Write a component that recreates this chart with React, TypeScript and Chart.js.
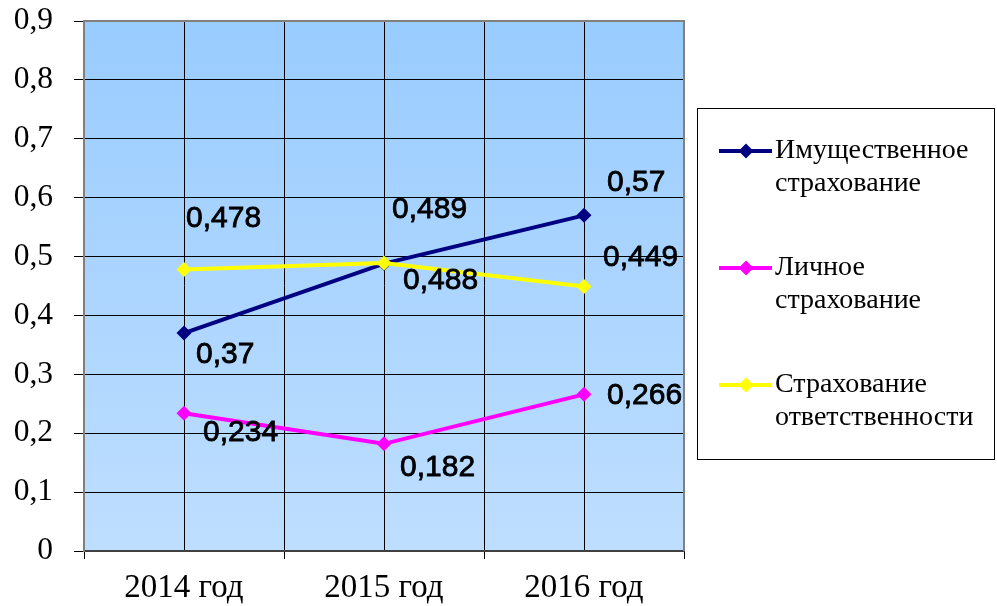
import React, { useEffect, useRef } from 'react';
import { Chart, registerables } from 'chart.js';

Chart.register(...registerables);

const categories = ['2014 год', '2015 год', '2016 год'];
const seriesNames = ['Имущественное страхование', 'Личное страхование', 'Страхование ответственности'];
const propertyValues = [0.37, 0.488, 0.57];
const personalValues = [0.234, 0.182, 0.266];
const liabilityValues = [0.478, 0.489, 0.449];
const seriesColors = ['#000080', '#FF00FF', '#FFFF00'];

// label offsets (px) relative to each point, per series
const labelOffsets = [
  [[12, 22], [19, 17], [23, -33]],
  [[19, 20], [16, 24], [23, 1]],
  [[2, -51], [8, -53], [19, -29]],
];

const fmt = (v: number) => (v === 0 ? '0' : String(v).replace('.', ','));

const bgPlugin = {
  id: 'bgPlugin',
  beforeDraw(chart: any) {
    const { ctx, chartArea: a } = chart;
    ctx.save();
    ctx.fillStyle = '#ffffff';
    ctx.fillRect(0, 0, chart.width, chart.height);
    const g = ctx.createLinearGradient(0, a.top, 0, a.bottom);
    g.addColorStop(0, '#99CCFF');
    g.addColorStop(1, '#BEDEFF');
    ctx.fillStyle = g;
    ctx.fillRect(a.left, a.top, a.right - a.left, a.bottom - a.top);
    ctx.restore();
  },
  afterDatasetsDraw(chart: any) {
    const { ctx, chartArea: a } = chart;
    ctx.save();
    ctx.strokeStyle = '#808080';
    ctx.lineWidth = 2;
    ctx.beginPath();
    ctx.moveTo(a.left, a.top);
    ctx.lineTo(a.right, a.top);
    ctx.lineTo(a.right, a.bottom);
    ctx.stroke();
    // data labels
    ctx.fillStyle = '#000';
    ctx.strokeStyle = '#000';
    ctx.lineWidth = 0.8;
    ctx.font = '30px "Liberation Sans", Arial, sans-serif';
    ctx.textAlign = 'left';
    ctx.textBaseline = 'middle';
    chart.data.datasets.forEach((ds: any, di: number) => {
      const meta = chart.getDatasetMeta(di);
      meta.data.forEach((pt: any, i: number) => {
        const [dx, dy] = labelOffsets[di][i];
        const t = fmt(ds.data[i].y);
        ctx.fillText(t, pt.x + dx, pt.y + dy);
        ctx.strokeText(t, pt.x + dx, pt.y + dy);
      });
    });
    ctx.restore();
  },
  afterDraw(chart: any) {
    const { ctx } = chart;
    ctx.save();
    const bx = 697.5, by = 108.5, bw = 297, bh = 351;
    ctx.strokeStyle = '#000';
    ctx.lineWidth = 1;
    ctx.strokeRect(bx, by, bw, bh);
    ctx.font = '28px "Liberation Serif", "Times New Roman", serif';
    ctx.textAlign = 'left';
    ctx.textBaseline = 'middle';
    seriesNames.forEach((name, i) => {
      const y = 151 + i * 117;
      const col = seriesColors[i];
      ctx.strokeStyle = col;
      ctx.lineWidth = 4;
      ctx.beginPath();
      ctx.moveTo(719, y);
      ctx.lineTo(772, y);
      ctx.stroke();
      ctx.fillStyle = col;
      ctx.beginPath();
      ctx.moveTo(746, y - 7.5);
      ctx.lineTo(753.5, y);
      ctx.lineTo(746, y + 7.5);
      ctx.lineTo(738.5, y);
      ctx.closePath();
      ctx.fill();
      ctx.fillStyle = '#000';
      const parts = name.split(' ');
      parts.forEach((p, k) => ctx.fillText(p, 775, y + k * 33));
    });
    ctx.restore();
  },
};

export default function App() {
  const ref = useRef<HTMLCanvasElement>(null);
  useEffect(() => {
    document.body.style.margin = '0';
    const allValues = [propertyValues, personalValues, liabilityValues];
    const chart = new Chart(ref.current as HTMLCanvasElement, {
      type: 'line',
      data: {
        datasets: allValues.map((vals, di) => ({
          label: seriesNames[di],
          data: vals.map((v, i) => ({ x: i, y: v })),
          borderColor: seriesColors[di],
          backgroundColor: seriesColors[di],
          borderWidth: 4,
          pointStyle: 'rectRot',
          pointRadius: 7.5,
          pointBorderWidth: 0,
          pointBackgroundColor: seriesColors[di],
          pointBorderColor: seriesColors[di],
          tension: 0,
          order: 3 - di,
        })),
      },
      options: {
        responsive: false,
        animation: false,
        layout: { padding: { left: 0, right: 313, top: 21, bottom: 0 } },
        plugins: { legend: { display: false }, tooltip: { enabled: false } },
        scales: {
          x: {
            type: 'linear',
            min: -0.5,
            max: 2.5,
            afterFit: (s: any) => {
              s.height = 55;
              s.paddingLeft = 0;
              s.paddingRight = 0;
            },
            ticks: {
              stepSize: 0.5,
              autoSkip: false,
              maxRotation: 0,
              padding: 10,
              color: '#000',
              font: { family: '"Liberation Serif", "Times New Roman", serif', size: 33 },
              callback: (v: any) => (Number.isInteger(v) ? categories[v] : ''),
            },
            grid: {
              color: '#000',
              lineWidth: 1,
              tickLength: 8,
              tickColor: (ctx: any) => (ctx.tick && Number.isInteger(ctx.tick.value) ? 'rgba(0,0,0,0)' : '#000'),
            },
            border: { display: true, color: '#404040', width: 2 },
          },
          y: {
            min: 0,
            max: 0.9,
            afterFit: (s: any) => {
              s.width = 84;
              s.paddingTop = 0;
              s.paddingBottom = 0;
            },
            ticks: {
              stepSize: 0.1,
              padding: 21,
              color: '#000',
              font: { family: '"Liberation Serif", "Times New Roman", serif', size: 31.5 },
              callback: (v: any) => (Math.abs(v) < 1e-9 ? '0' : Number(v).toFixed(1).replace('.', ',')),
            },
            grid: { color: '#000', lineWidth: 1, tickLength: 10, tickColor: '#000' },
            border: { display: true, color: '#808080', width: 2 },
          },
        },
      } as any,
      plugins: [bgPlugin],
    });
    return () => chart.destroy();
  }, []);
  return <canvas ref={ref} width={997} height={606} style={{ display: 'block', width: 997, height: 606 }} />;
}
